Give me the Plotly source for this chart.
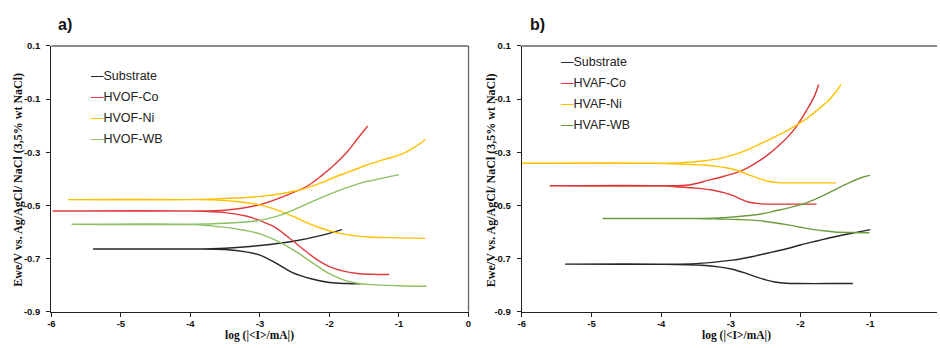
import plotly.graph_objects as go

# ---------------- data ----------------
series_names_a = ["Substrate", "HVOF-Co", "HVOF-Ni", "HVOF-WB"]
series_names_b = ["Substrate", "HVAF-Co", "HVAF-Ni", "HVAF-WB"]

# panel a) cathodic (lower) and anodic (upper) branches
a_sub_low_x = [-5.40, -4.0, -3.5, -3.2, -3.0, -2.75, -2.54, -2.25, -2.0, -1.75, -1.55]
a_sub_low_y = [-0.664, -0.664, -0.666, -0.675, -0.687, -0.720, -0.752, -0.777, -0.790, -0.794, -0.795]
a_sub_up_x = [-4.0, -3.5, -3.0, -2.5, -2.1, -1.82]
a_sub_up_y = [-0.664, -0.661, -0.651, -0.634, -0.612, -0.591]

a_co_low_x = [-5.98, -4.0, -3.5, -3.2, -3.0, -2.8, -2.6, -2.4, -2.2, -2.0, -1.8, -1.6, -1.4, -1.14]
a_co_low_y = [-0.521, -0.521, -0.527, -0.540, -0.557, -0.580, -0.618, -0.660, -0.700, -0.730, -0.747, -0.756, -0.759, -0.760]
a_co_up_x = [-4.0, -3.5, -3.0, -2.6, -2.3, -2.1, -1.92, -1.75, -1.6, -1.45]
a_co_up_y = [-0.521, -0.518, -0.497, -0.460, -0.424, -0.385, -0.345, -0.300, -0.250, -0.201]

a_ni_low_x = [-5.76, -4.0, -3.6, -3.3, -3.02, -2.8, -2.54, -2.35, -2.16, -1.95, -1.83, -1.6, -1.45, -1.0, -0.62]
a_ni_low_y = [-0.478, -0.478, -0.480, -0.486, -0.497, -0.513, -0.539, -0.562, -0.582, -0.599, -0.606, -0.615, -0.619, -0.622, -0.624]
a_ni_up_x = [-4.0, -3.5, -3.0, -2.7, -2.4, -2.15, -1.92, -1.7, -1.45, -1.2, -1.0, -0.8, -0.62]
a_ni_up_y = [-0.478, -0.474, -0.466, -0.456, -0.440, -0.418, -0.393, -0.372, -0.347, -0.326, -0.311, -0.285, -0.252]

a_wb_low_x = [-5.71, -4.0, -3.73, -3.3, -3.0, -2.8, -2.6, -2.4, -2.2, -2.0, -1.8, -1.6, -1.45, -1.0, -0.60]
a_wb_low_y = [-0.571, -0.571, -0.576, -0.590, -0.607, -0.628, -0.655, -0.688, -0.724, -0.757, -0.780, -0.793, -0.797, -0.802, -0.804]
a_wb_up_x = [-4.0, -3.5, -3.02, -2.75, -2.5, -2.25, -2.02, -1.78, -1.54, -1.25, -1.0]
a_wb_up_y = [-0.571, -0.567, -0.557, -0.540, -0.515, -0.486, -0.460, -0.436, -0.415, -0.398, -0.384]

# panel b)
b_sub_low_x = [-5.38, -4.0, -3.41, -3.15, -2.98, -2.8, -2.65, -2.5, -2.37, -2.2, -2.04, -1.6, -1.25]
b_sub_low_y = [-0.721, -0.721, -0.725, -0.732, -0.740, -0.754, -0.768, -0.780, -0.788, -0.793, -0.794, -0.794, -0.794]
b_sub_up_x = [-4.0, -3.5, -2.98, -2.7, -2.46, -2.2, -1.99, -1.75, -1.51, -1.25, -1.0]
b_sub_up_y = [-0.721, -0.719, -0.706, -0.693, -0.679, -0.663, -0.648, -0.633, -0.618, -0.604, -0.591]

b_co_low_x = [-5.60, -4.0, -3.79, -3.5, -3.27, -3.1, -2.94, -2.85, -2.75, -2.6, -2.46, -2.2, -1.77]
b_co_low_y = [-0.426, -0.426, -0.430, -0.435, -0.442, -0.452, -0.466, -0.477, -0.487, -0.493, -0.495, -0.495, -0.495]
b_co_up_x = [-4.0, -3.6, -3.32, -3.1, -2.84, -2.65, -2.46, -2.3, -2.18, -2.07, -1.99, -1.92, -1.85, -1.79, -1.74]
b_co_up_y = [-0.426, -0.423, -0.405, -0.390, -0.369, -0.342, -0.308, -0.272, -0.241, -0.207, -0.175, -0.145, -0.114, -0.082, -0.045]

b_ni_low_x = [-6.0, -4.12, -3.65, -3.4, -3.17, -3.0, -2.84, -2.7, -2.56, -2.45, -2.32, -2.0, -1.49]
b_ni_low_y = [-0.341, -0.341, -0.345, -0.348, -0.354, -0.362, -0.375, -0.389, -0.402, -0.410, -0.414, -0.415, -0.415]
b_ni_up_x = [-4.12, -3.7, -3.41, -3.15, -2.94, -2.75, -2.56, -2.37, -2.18, -2.0, -1.89, -1.75, -1.61, -1.5, -1.42]
b_ni_up_y = [-0.341, -0.339, -0.333, -0.323, -0.308, -0.289, -0.266, -0.242, -0.217, -0.188, -0.169, -0.139, -0.108, -0.075, -0.045]

b_wb_low_x = [-4.84, -3.5, -3.17, -2.9, -2.6, -2.4, -2.18, -2.0, -1.8, -1.6, -1.51, -1.25, -1.01]
b_wb_low_y = [-0.549, -0.549, -0.551, -0.553, -0.557, -0.564, -0.573, -0.582, -0.591, -0.597, -0.600, -0.602, -0.603]
b_wb_up_x = [-3.5, -3.1, -2.7, -2.5, -2.37, -2.2, -1.99, -1.8, -1.61, -1.45, -1.28, -1.12, -1.0]
b_wb_up_y = [-0.549, -0.546, -0.537, -0.529, -0.521, -0.511, -0.497, -0.478, -0.455, -0.433, -0.412, -0.395, -0.387]

x_tick_vals = [-6, -5, -4, -3, -2, -1, 0]
x_tick_text = ["-6", "-5", "-4", "-3", "-2", "-1", "0"]
y_tick_vals = [0.1, -0.1, -0.3, -0.5, -0.7, -0.9]
y_tick_text = ["0.1", "-0.1", "-0.3", "-0.5", "-0.7", "-0.9"]

x_title = "log (|&lt;I&gt;/mA|)"
y_title = "Ewe/V vs. Ag/AgCl/ NaCl (3,5% wt NaCl)"

# ---------------- styling ----------------
W, H = 940, 348
colors_a = ["#262626", "#e23a3a", "#ffc000", "#8cc063"]
colors_b = ["#262626", "#e03535", "#ffc000", "#6a9c3e"]

def px_x(p):
    return p / W

def px_y(p):
    return 1 - p / H

fig = go.Figure()

panel_a = [
    (a_sub_low_x, a_sub_low_y, a_sub_up_x, a_sub_up_y),
    (a_co_low_x, a_co_low_y, a_co_up_x, a_co_up_y),
    (a_ni_low_x, a_ni_low_y, a_ni_up_x, a_ni_up_y),
    (a_wb_low_x, a_wb_low_y, a_wb_up_x, a_wb_up_y),
]
panel_b = [
    (b_sub_low_x, b_sub_low_y, b_sub_up_x, b_sub_up_y),
    (b_co_low_x, b_co_low_y, b_co_up_x, b_co_up_y),
    (b_ni_low_x, b_ni_low_y, b_ni_up_x, b_ni_up_y),
    (b_wb_low_x, b_wb_low_y, b_wb_up_x, b_wb_up_y),
]

for names, data, cols, xa, ya in [
    (series_names_a, panel_a, colors_a, "x", "y"),
    (series_names_b, panel_b, colors_b, "x2", "y2"),
]:
    for name, (lx, ly, ux, uy), c in zip(names, data, cols):
        xs = list(reversed(lx)) + list(ux)
        ys = list(reversed(ly)) + list(uy)
        fig.add_trace(go.Scatter(
            x=xs, y=ys, mode="lines", name=name,
            line=dict(color=c, width=1.4, shape="spline", smoothing=1.0),
            xaxis=xa, yaxis=ya, showlegend=False, hoverinfo="skip",
        ))

tick_font = dict(family="Liberation Sans, Arial", size=9.5, color="#111", weight="bold")

def xaxis_cfg(domain, rng):
    return dict(
        domain=domain, range=rng, tickvals=x_tick_vals, ticktext=x_tick_text,
        showgrid=False, zeroline=False, showline=True, linecolor="#222", linewidth=1.3,
        ticks="outside", ticklen=4, tickwidth=1.2, tickcolor="#222",
        tickfont=tick_font, fixedrange=True, ticklabelstandoff=-1,
    )

def yaxis_cfg(anchor):
    return dict(
        domain=[px_y(315.7), px_y(41.3)], range=[-0.9, 0.1],
        tickvals=y_tick_vals, ticktext=y_tick_text, anchor=anchor,
        showgrid=False, zeroline=False, showline=True, linecolor="#222", linewidth=1.3,
        ticks="outside", ticklen=4, tickwidth=1.2, tickcolor="#222",
        tickfont=tick_font, fixedrange=True, ticklabelstandoff=4,
    )

xa_dom = [px_x(47.7), px_x(468.0)]
xb_dom = [px_x(521.7), 1.0]
right_end = -6 + (940 - 521.7) / ((872.7 - 521.7) / 5.0)

fig.update_layout(
    width=W, height=H, margin=dict(l=0, r=0, t=0, b=0),
    paper_bgcolor="white", plot_bgcolor="white",
    xaxis=dict(xaxis_cfg(xa_dom, [-6, 0]), anchor="y"),
    yaxis=yaxis_cfg("x"),
    xaxis2=dict(xaxis_cfg(xb_dom, [-6, right_end]), anchor="y2"),
    yaxis2=yaxis_cfg("x2"),
    showlegend=False,
)

# frame lines (top / right)
shapes = [
    dict(type="line", xref="x domain", yref="y domain", x0=0, x1=1, y0=1, y1=1,
         line=dict(color="#666", width=1.3)),
    dict(type="line", xref="x domain", yref="y domain", x0=1, x1=1, y0=0, y1=1,
         line=dict(color="#666", width=1.3)),
    dict(type="line", xref="x2 domain", yref="y2 domain", x0=0, x1=1, y0=1, y1=1,
         line=dict(color="#666", width=1.3)),
]
fig.update_layout(shapes=shapes)

annotations = []
serif = dict(family="Liberation Serif, Times New Roman", size=12, color="#111", weight="bold")
serif_x = dict(family="Liberation Serif, Times New Roman", size=11.5, color="#111", weight="bold")
# panel labels
for lbl, x in [("a)", 52.5), ("b)", 528.3)]:
    annotations.append(dict(text=lbl, x=px_x(x), y=px_y(19), xref="paper", yref="paper",
                            xanchor="left", yanchor="middle", showarrow=False,
                            font=dict(family="Liberation Sans, Arial", size=16, color="#111", weight="bold")))
# axis titles
for cx in [257.9, 737.5]:
    annotations.append(dict(text=x_title, x=px_x(cx), y=0, xref="paper", yref="paper",
                            xanchor="center", yanchor="bottom", showarrow=False, font=serif_x,
                            borderpad=0))
for cx in [14.0, 490.0]:
    annotations.append(dict(text=y_title, x=px_x(cx), y=px_y(179.5), xref="paper", yref="paper",
                            xanchor="center", yanchor="middle", showarrow=False, textangle=-90, font=serif))
# legends
leg_font = dict(family="Liberation Sans, Arial", size=12.5, color="#222")
for names, cols, lx, ys in [
    (series_names_a, colors_a, 85.5, [72.7, 93.7, 115.3, 137.0]),
    (series_names_b, colors_b, 559.0, [58.3, 80.0, 101.7, 122.7]),
]:
    for name, c, yy in zip(names, cols, ys):
        annotations.append(dict(
            text=f'<span style="color:{c}">—</span>{name}',
            x=px_x(lx), y=px_y(yy), xref="paper", yref="paper",
            xanchor="left", yanchor="middle", showarrow=False, font=leg_font))

fig.update_layout(annotations=annotations)

fig.write_html("out.html")
